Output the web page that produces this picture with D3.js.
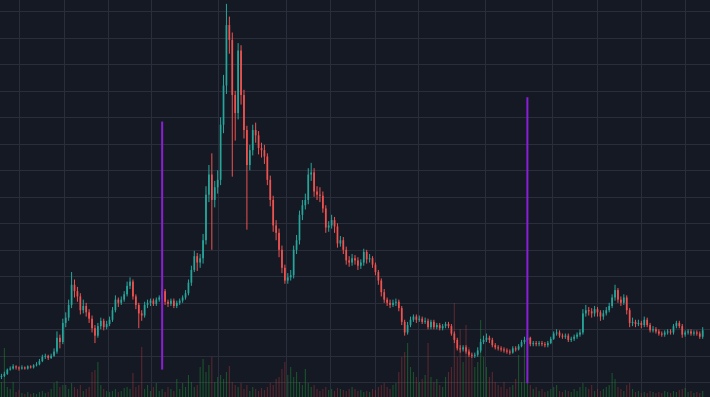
<!DOCTYPE html>
<html>
<head>
<meta charset="utf-8">
<style>
  html, body { margin: 0; padding: 0; background: #151924; overflow: hidden; }
</style>
<script src="https://cdn.jsdelivr.net/npm/d3@7"></script>
</head>
<body>
<div id="chart"></div>
<script>
'use strict';

// time range and candle spacing
const startDate = '2017-08-06';
const endDate = '2020-04-04';
const firstCandle = '2017-08-08';
const candleStepDays = 4;
const firstOpen = 5;

const closes = [
  6, 8, 12, 13, 15, 14, 13, 14, 13, 15,
  14, 16, 17, 20, 24, 25, 23, 25, 29, 42,
  38, 56, 61, 73, 92, 86, 81, 68, 72, 66,
  60, 51, 44, 53, 58, 52, 55, 59, 68, 78,
  75, 78, 83, 91, 95, 81, 73, 65, 63, 73,
  75, 77, 74, 78, 80, 86, 76, 74, 77, 72,
  75, 77, 80, 84, 94, 106, 119, 113, 117, 134,
  177, 196, 172, 184, 191, 243, 280, 337, 323, 271,
  254, 313, 271, 238, 205, 219, 238, 233, 221, 219,
  213, 191, 172, 148, 141, 125, 108, 96, 99, 101,
  125, 134, 158, 167, 172, 196, 198, 180, 177, 176,
  164, 146, 148, 153, 147, 131, 134, 125, 115, 113,
  117, 115, 110, 113, 123, 116, 117, 111, 104, 96,
  85, 78, 75, 73, 75, 76, 70, 57, 47, 54,
  59, 62, 59, 60, 57, 58, 52, 57, 52, 54,
  51, 53, 55, 53, 46, 40, 32, 31, 33, 29,
  26, 25, 26, 30, 38, 40, 42, 40, 35, 33,
  32, 31, 30, 29, 28, 32, 31, 34, 38, 40,
  42, 36, 37, 36, 37, 36, 35, 37, 41, 46,
  47, 44, 43, 44, 40, 41, 43, 45, 47, 65,
  68, 67, 65, 69, 66, 62, 65, 68, 72, 80,
  87, 78, 75, 80, 68, 56, 57, 55, 56, 54,
  59, 54, 49, 50, 48, 46, 45, 47, 48, 47,
  53, 56, 53, 45, 47, 48, 46, 47, 46, 43, 49
];

const highs = [
  8, 10, 13, 15, 17, 16, 15, 16, 15, 16,
  16, 17, 19, 22, 26, 27, 26, 27, 32, 48,
  45, 60, 66, 78, 104, 97, 90, 84, 78, 75,
  69, 63, 54, 56, 61, 60, 58, 62, 71, 82,
  80, 81, 86, 95, 99, 97, 83, 75, 68, 76,
  78, 79, 79, 80, 82, 91, 88, 78, 79, 79,
  77, 79, 82, 87, 97, 110, 124, 122, 121, 140,
  185, 205, 216, 190, 200, 250, 290, 357, 345, 330,
  275, 320, 318, 276, 242, 224, 243, 245, 237, 226,
  224, 216, 195, 176, 153, 145, 129, 111, 103, 106,
  129, 139, 162, 172, 178, 202, 207, 202, 185, 184,
  180, 167, 152, 158, 156, 150, 138, 137, 128, 119,
  121, 120, 118, 116, 126, 125, 121, 119, 113, 106,
  98, 88, 80, 78, 78, 79, 78, 72, 59, 57,
  62, 64, 64, 63, 62, 61, 60, 59, 59, 56,
  56, 55, 57, 57, 55, 48, 42, 35, 35, 35,
  31, 28, 28, 33, 41, 44, 46, 44, 42, 37,
  35, 34, 33, 32, 31, 34, 34, 36, 40, 43,
  45, 43, 39, 39, 39, 39, 38, 39, 43, 48,
  50, 49, 46, 46, 46, 43, 45, 47, 50, 69,
  73, 71, 70, 72, 71, 68, 68, 71, 75, 83,
  92, 89, 81, 83, 82, 70, 61, 59, 59, 58,
  62, 61, 56, 53, 52, 50, 48, 49, 50, 50,
  55, 58, 58, 55, 49, 50, 50, 49, 49, 48, 52
];

const lows = [
  3, 5, 7, 11, 12, 12, 11, 12, 12, 12,
  13, 13, 15, 16, 19, 22, 21, 22, 24, 27,
  32, 36, 52, 58, 70, 80, 76, 64, 65, 62,
  56, 47, 37, 42, 50, 49, 50, 53, 57, 66,
  71, 73, 76, 81, 88, 78, 69, 51, 58, 61,
  70, 72, 72, 72, 76, 78, 73, 71, 72, 70,
  70, 73, 75, 78, 82, 91, 104, 105, 108, 112,
  130, 170, 125, 165, 178, 186, 235, 272, 310, 194,
  228, 248, 262, 230, 144, 200, 214, 226, 215, 212,
  206, 186, 166, 142, 134, 118, 103, 93, 93, 96,
  98, 121, 130, 153, 163, 168, 190, 175, 172, 170,
  160, 141, 142, 145, 141, 127, 128, 121, 111, 109,
  110, 111, 106, 107, 110, 112, 113, 108, 101, 92,
  81, 75, 72, 70, 71, 72, 67, 54, 44, 45,
  52, 57, 56, 57, 55, 55, 50, 50, 50, 50,
  49, 49, 51, 51, 44, 37, 30, 28, 29, 27,
  24, 23, 23, 24, 28, 36, 38, 37, 33, 31,
  30, 29, 28, 27, 26, 27, 29, 30, 33, 36,
  38, 34, 34, 34, 34, 34, 33, 33, 36, 40,
  44, 42, 41, 41, 38, 38, 39, 41, 43, 45,
  62, 63, 61, 62, 62, 58, 59, 63, 66, 70,
  77, 75, 72, 73, 64, 52, 53, 52, 53, 51,
  52, 52, 47, 47, 46, 44, 43, 43, 45, 45,
  45, 51, 51, 42, 43, 45, 44, 44, 44, 41, 41
];

const volumes = [
  15, 49, 10, 8, 15, 5, 7, 4, 3, 5,
  3, 4, 3, 5, 6, 4, 5, 8, 14, 16,
  10, 12, 12, 8, 14, 10, 8, 12, 6, 8,
  10, 25, 27, 35, 12, 8, 6, 5, 6, 8,
  5, 6, 9, 10, 8, 24, 10, 12, 50, 8,
  12, 6, 10, 14, 6, 8, 5, 10, 8, 6,
  18, 8, 14, 10, 22, 15, 10, 12, 30, 38,
  25, 32, 40, 15, 20, 22, 18, 25, 31, 15,
  12, 10, 14, 8, 12, 6, 10, 8, 6, 9,
  7, 10, 14, 12, 18, 20, 28, 35, 22, 30,
  20, 25, 15, 12, 28, 14, 10, 12, 8, 6,
  8, 10, 7, 8, 6, 9, 8, 7, 6, 8,
  10, 8, 6, 7, 5, 6, 5, 8, 7, 10,
  12, 14, 10, 8, 12, 14, 25, 40, 45, 54,
  30, 25, 20, 15, 18, 22, 54, 20, 15, 18,
  12, 10, 20, 25, 30, 94, 40, 68, 35, 72,
  50, 40, 30, 35, 77, 40, 30, 20, 25, 15,
  12, 10, 15, 8, 10, 12, 18, 42, 15, 55,
  20, 12, 8, 10, 6, 8, 5, 6, 8, 10,
  12, 6, 5, 7, 6, 5, 8, 6, 10, 14,
  10, 8, 12, 6, 8, 6, 8, 10, 12, 24,
  18, 10, 8, 6, 12, 14, 8, 5, 6, 4,
  5, 4, 6, 5, 4, 5, 4, 6, 5, 4,
  6, 5, 7, 8, 9, 5, 6, 4, 5, 4, 6
];

// purple vertical markers
const markerDates = ['2018-03-16', '2019-07-29'];
const markerTops = [246, 269];
const markerBottoms = [12, -1];

// grid positions
const gridDates = [
  '2017-09-01', '2017-11-01', '2018-01-01', '2018-03-01', '2018-06-01',
  '2018-09-01', '2018-11-01', '2019-01-01', '2019-03-01', '2019-06-01',
  '2019-09-01', '2019-11-01', '2020-01-01', '2020-03-01'
];
const priceGrid = d3.range(0, 351, 25);

const width = 710;
const height = 397;
const upColor = '#26a69a';
const downColor = '#ef5350';
const gridColor = '#2a2e3a';

const parse = d3.utcParse('%Y-%m-%d');

const candles = closes.map((c, i) => ({
  date: d3.utcDay.offset(parse(firstCandle), i * candleStepDays),
  open: i ? closes[i - 1] : firstOpen,
  high: highs[i],
  low: lows[i],
  close: c,
  volume: volumes[i],
}));

const x = d3.scaleUtc([parse(startDate), parse(endDate)], [0, width]);
const y = d3.scaleLinear([0, 350], [382.3, 11.3]);
const yVol = d3.scaleLinear([0, 100], [height, height - 100]);

const bodyWidth = 1.7;
const volWidth = 1.1;
const isUp = (d) => d.close >= d.open;

const svg = d3.select('#chart')
  .append('svg')
  .attr('width', width)
  .attr('height', height)
  .attr('viewBox', [0, 0, width, height])
  .style('display', 'block')
  .style('background', '#151924');

// grid
svg.append('g')
  .selectAll('line')
  .data(priceGrid)
  .join('line')
  .attr('x1', 0)
  .attr('x2', width)
  .attr('y1', (d) => Math.round(y(d)) + 0.5)
  .attr('y2', (d) => Math.round(y(d)) + 0.5)
  .attr('stroke', gridColor);

svg.append('g')
  .selectAll('line')
  .data(gridDates.map(parse))
  .join('line')
  .attr('x1', (d) => Math.round(x(d)) + 0.5)
  .attr('x2', (d) => Math.round(x(d)) + 0.5)
  .attr('y1', 0)
  .attr('y2', height)
  .attr('stroke', gridColor);

// volume
svg.append('g')
  .selectAll('rect')
  .data(candles)
  .join('rect')
  .attr('x', (d) => x(d.date) - volWidth / 2)
  .attr('width', volWidth)
  .attr('y', (d) => yVol(d.volume))
  .attr('height', (d) => yVol(0) - yVol(d.volume))
  .attr('fill', (d) => isUp(d) ? 'rgba(30,150,50,0.45)' : 'rgba(200,60,60,0.38)');

// wicks
svg.append('g')
  .selectAll('line')
  .data(candles)
  .join('line')
  .attr('x1', (d) => x(d.date))
  .attr('x2', (d) => x(d.date))
  .attr('y1', (d) => y(d.high))
  .attr('y2', (d) => y(d.low))
  .attr('stroke', (d) => isUp(d) ? upColor : downColor)
  .attr('stroke-width', 1);

// bodies
svg.append('g')
  .selectAll('rect')
  .data(candles)
  .join('rect')
  .attr('x', (d) => x(d.date) - bodyWidth / 2)
  .attr('width', bodyWidth)
  .attr('y', (d) => y(Math.max(d.open, d.close)))
  .attr('height', (d) => Math.max(1, Math.abs(y(d.open) - y(d.close))))
  .attr('fill', (d) => isUp(d) ? upColor : downColor);

// markers
svg.append('g')
  .selectAll('line')
  .data(markerDates.map((d, i) => ({ date: parse(d), top: markerTops[i], bottom: markerBottoms[i] })))
  .join('line')
  .attr('x1', (d) => x(d.date))
  .attr('x2', (d) => x(d.date))
  .attr('y1', (d) => y(d.top))
  .attr('y2', (d) => y(d.bottom))
  .attr('stroke', '#8a1fd6')
  .attr('stroke-width', 2);
</script>
</body>
</html>
